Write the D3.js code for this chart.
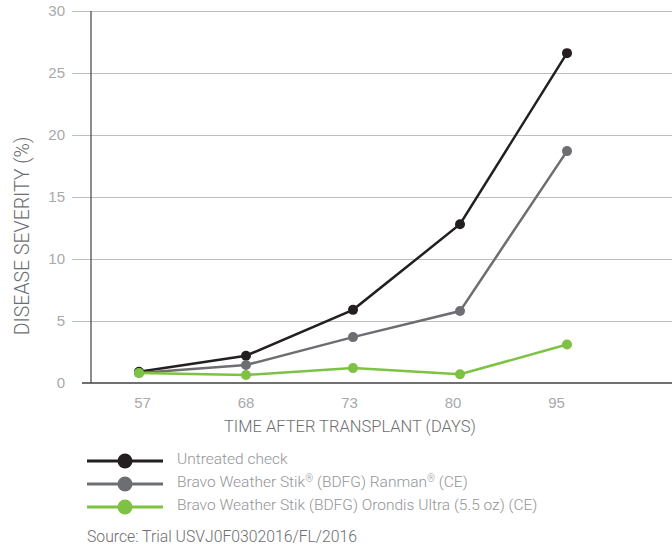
<!DOCTYPE html>
<html>
<head>
<meta charset="utf-8">
<script src="https://cdn.jsdelivr.net/npm/d3@7"></script>
<style>
  body { margin: 0; background: #fff; }
  svg { display: block; font-family: Roboto, "Liberation Sans", sans-serif; font-weight: 300; }
</style>
</head>
<body>
<div id="chart"></div>
<script>
    // data
    const days = ["57", "68", "73", "80", "95"];
    const untreated = [0.9, 2.2, 5.9, 12.8, 26.6];
    const ranman = [0.8, 1.45, 3.7, 5.8, 18.7];
    const orondis = [0.8, 0.65, 1.2, 0.7, 3.1];
    // legend names split into [text, superscript?] parts
    const seriesNames = [
        [["Untreated check", false]],
        [["Bravo Weather Stik", false], ["\u00ae", true], [" (BDFG) Ranman", false], ["\u00ae", true], [" (CE)", false]],
        [["Bravo Weather Stik (BDFG) Orondis Ultra (5.5 oz) (CE)", false]]
    ];
    const yTicks = [0, 5, 10, 15, 20, 25, 30];

    const colors = ["#231f20", "#6d6e71", "#7dc242"];
    const series = [untreated, ranman, orondis];

    const width = 672, height = 547;

    const svg = d3.select("#chart").append("svg")
        .attr("width", width)
        .attr("height", height);

    const y = d3.scaleLinear().domain([0, 30]).range([383, 11]);
    // marks sit a little right of the printed day labels
    const x = d3.scalePoint().domain(days).range([139, 567]);
    const xLabel = d3.scalePoint().domain(days).range([142, 556]);

    // gridlines + y tick labels
    const yAxis = d3.axisLeft(y).tickValues(yTicks).tickSize(-600).tickPadding(7);
    const gy = svg.append("g").attr("transform", "translate(72,0)").call(yAxis);
    gy.select(".domain").remove();
    gy.selectAll(".tick line").attr("stroke", "#bcbec0").attr("stroke-width", 1.2);
    gy.selectAll(".tick text")
        .attr("fill", "#a7a9ac")
        .style("font-size", "15px")
        .style("font-family", "inherit");
    gy.selectAll(".tick").filter(d => d === 0).select("line").attr("stroke", "none");

    // axis lines
    svg.append("line")
        .attr("x1", 91).attr("x2", 91)
        .attr("y1", y(30)).attr("y2", y(0))
        .attr("stroke", "#414042").attr("stroke-width", 1.2);
    svg.append("line")
        .attr("x1", 82).attr("x2", width)
        .attr("y1", y(0)).attr("y2", y(0))
        .attr("stroke", "#414042").attr("stroke-width", 1.4);

    // x tick labels
    const xAxis = d3.axisBottom(xLabel).tickSize(0).tickPadding(14);
    const gx = svg.append("g").attr("transform", "translate(0," + y(0) + ")").call(xAxis);
    gx.select(".domain").remove();
    gx.selectAll(".tick text")
        .attr("fill", "#a7a9ac")
        .style("font-size", "15px")
        .style("font-family", "inherit");

    // axis titles
    svg.append("text")
        .attr("x", 350).attr("y", 432)
        .attr("text-anchor", "middle")
        .attr("fill", "#6d6e71")
        .style("font-size", "16.5px")
        .text("TIME AFTER TRANSPLANT (DAYS)");

    svg.append("text")
        .attr("transform", "translate(29,236) rotate(-90)")
        .attr("text-anchor", "middle")
        .attr("fill", "#6d6e71")
        .style("font-size", "19.5px")
        .text("DISEASE SEVERITY (%)");

    // lines and markers
    const line = d3.line()
        .x((d, i) => x(days[i]))
        .y(d => y(d));

    series.forEach((values, s) => {
        svg.append("path")
            .datum(values)
            .attr("fill", "none")
            .attr("stroke", colors[s])
            .attr("stroke-width", 2.5)
            .attr("d", line);

        svg.selectAll(".pt" + s)
            .data(values)
            .enter()
            .append("circle")
            .attr("class", "pt" + s)
            .attr("cx", (d, i) => x(days[i]))
            .attr("cy", d => y(d))
            .attr("r", 5)
            .attr("fill", colors[s]);
    });

    // legend
    const legend = svg.append("g");
    seriesNames.forEach((parts, s) => {
        const ly = 461 + s * 23;
        legend.append("line")
            .attr("x1", 87).attr("x2", 163)
            .attr("y1", ly).attr("y2", ly)
            .attr("stroke", colors[s])
            .attr("stroke-width", 3);
        legend.append("circle")
            .attr("cx", 125).attr("cy", ly)
            .attr("r", 7.5)
            .attr("fill", colors[s]);
        const t = legend.append("text")
            .attr("x", 177).attr("y", ly + 3)
            .attr("fill", "#939598")
            .style("font-size", "15.5px");
        parts.forEach(([str, sup]) => {
            const sp = t.append("tspan").text(str);
            if (sup) sp.attr("dy", -5).style("font-size", "10px");
            else sp.attr("dy", t.selectAll("tspan").size() > 1 ? 5 : 0);
        });
    });

    svg.append("text")
        .attr("x", 87).attr("y", 542)
        .attr("fill", "#6d6e71")
        .style("font-size", "15.75px")
        .text("Source: Trial USVJ0F0302016/FL/2016");
</script>
</body>
</html>
